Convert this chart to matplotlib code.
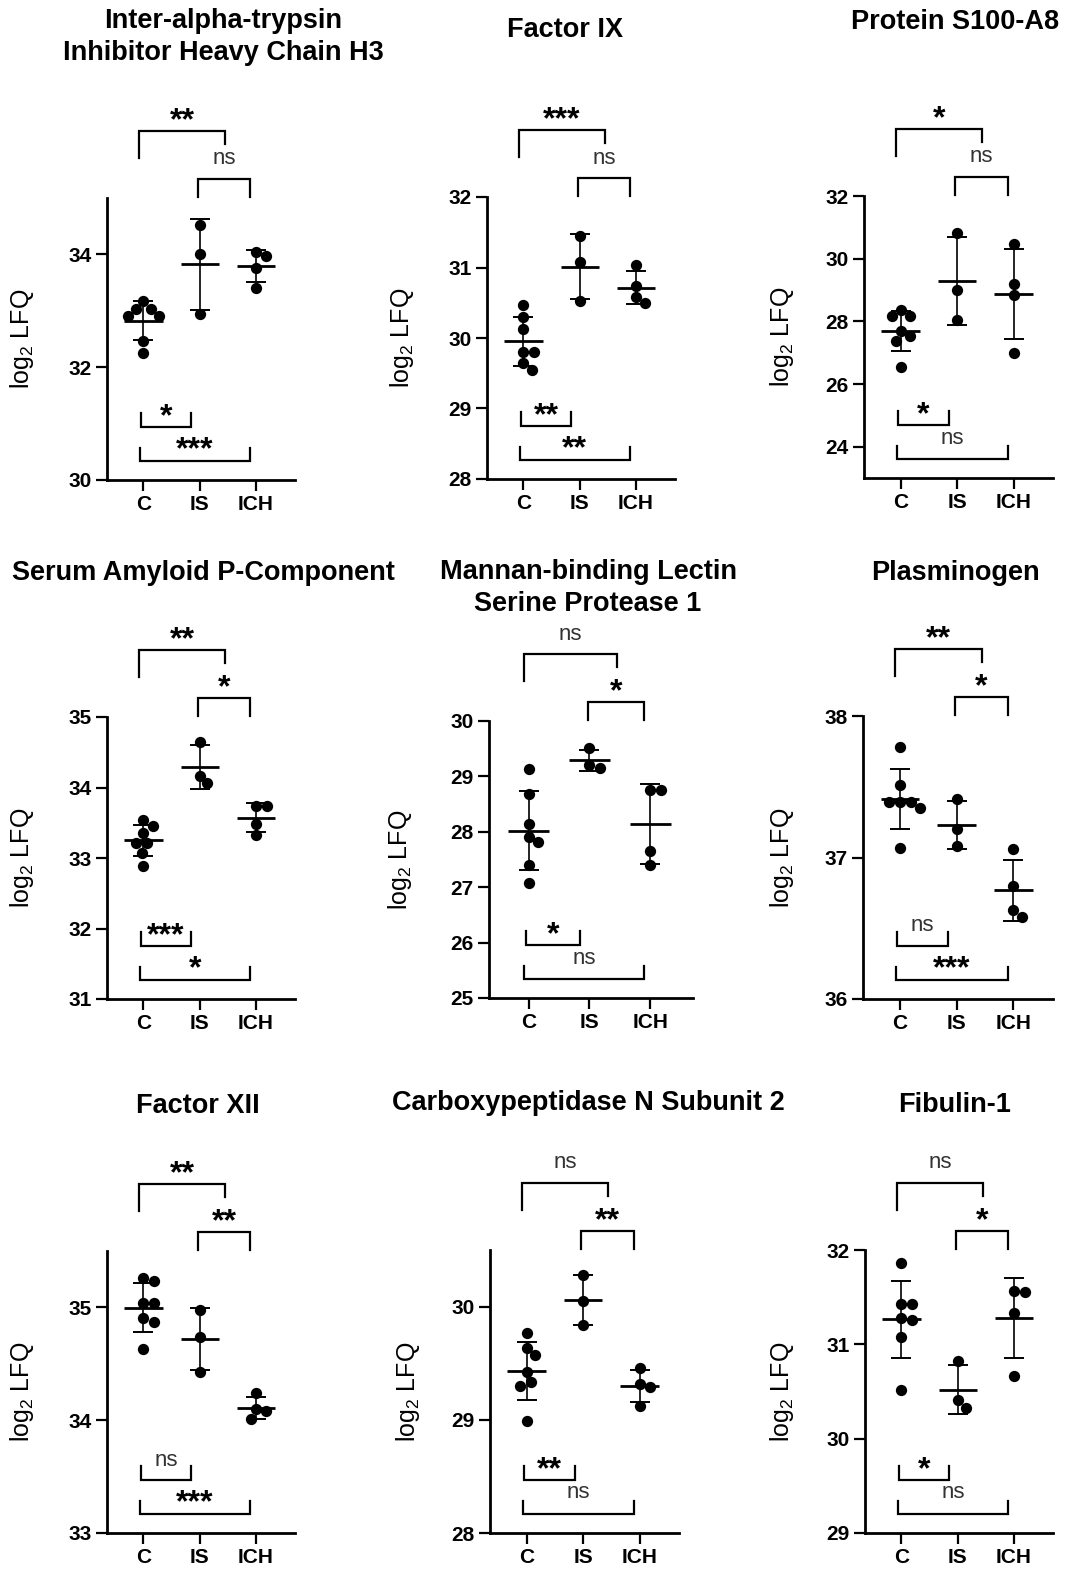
import numpy as np
import matplotlib
matplotlib.use("Agg")
import matplotlib.pyplot as plt
from matplotlib import transforms, font_manager

plt.rcParams["font.family"] = ["Liberation Sans", "DejaVu Sans"]
plt.rcParams["mathtext.default"] = "regular"

# titles in the reference look condensed; use the narrow cut if it is installed
_names = {f.name for f in font_manager.fontManager.ttflist}
NARROW = "Liberation Sans Narrow" in _names
TITLE_FONT = (["Liberation Sans Narrow"], 23) if NARROW else (["Liberation Sans"], 19.5)
NS_FONT = (["Liberation Sans Narrow"], 17) if NARROW else (["Liberation Sans"], 16)

W, H, DPI = 1067, 1571, 100
GROUPS = ["C", "IS", "ICH"]

# ---------------------------------------------------------------- data (log2 LFQ)
ITIH3 = [[33.18, 33.03, 33.04, 32.91, 32.91, 32.47, 32.25],
         [34.53, 34.00, 32.94],
         [34.04, 33.98, 33.75, 33.41]]
F9 = [[30.47, 30.30, 30.13, 29.80, 29.80, 29.55, 29.64],
      [31.44, 31.08, 30.52],
      [31.03, 30.74, 30.50, 30.58]]
S100A8 = [[28.18, 28.36, 28.16, 27.70, 27.38, 27.52, 26.55],
          [30.82, 29.01, 28.04],
          [30.46, 29.20, 28.84, 27.00]]
SAP = [[33.54, 33.46, 33.36, 33.21, 33.21, 33.07, 32.89],
       [34.64, 34.06, 34.17],
       [33.74, 33.74, 33.48, 33.32]]
MASP1 = [[29.13, 28.68, 28.14, 27.90, 27.81, 27.40, 27.08],
         [29.51, 29.16, 29.21],
         [28.76, 28.75, 27.65, 27.40]]
PLG = [[37.78, 37.51, 37.39, 37.35, 37.39, 37.39, 37.07],
       [37.41, 37.20, 37.08],
       [37.06, 36.80, 36.58, 36.63]]
F12 = [[35.26, 35.23, 35.04, 35.04, 34.91, 34.87, 34.63],
       [34.98, 34.74, 34.43],
       [34.24, 34.08, 34.10, 34.01]]
CPN2 = [[29.77, 29.63, 29.57, 29.42, 29.30, 29.33, 28.99],
        [30.28, 30.05, 29.84],
        [29.46, 29.32, 29.29, 29.12]]
FBLN1 = [[31.86, 31.43, 31.43, 31.26, 31.28, 31.08, 30.52],
         [30.82, 30.33, 30.41],
         [31.56, 31.57, 31.33, 30.66]]

PANELS = [ITIH3, F9, S100A8, SAP, MASP1, PLG, F12, CPN2, FBLN1]
TITLES = ["Inter-alpha-trypsin\nInhibitor Heavy Chain H3", "Factor IX", "Protein S100-A8",
          "Serum Amyloid P-Component", "Mannan-binding Lectin\nSerine Protease 1", "Plasminogen",
          "Factor XII", "Carboxypeptidase N Subunit 2", "Fibulin-1"]
YLIMS = [(30, 35), (28, 32), (23, 32), (31, 35), (25, 30), (36, 38),
         (33, 35.5), (28, 30.5), (29, 32)]
YTICKS = [[30, 32, 34], [28, 29, 30, 31, 32], [24, 26, 28, 30, 32],
          [31, 32, 33, 34, 35], [25, 26, 27, 28, 29, 30], [36, 37, 38],
          [33, 34, 35], [28, 29, 30], [29, 30, 31, 32]]
# significance: C vs (top), IS vs ICH, C vs IS (below), C vs ICH (below)
SIGS = [["**", "ns", "*", "***"], ["***", "ns", "**", "**"], ["*", "ns", "*", "ns"],
        ["**", "*", "***", "*"], ["ns", "*", "*", "ns"], ["**", "*", "ns", "***"],
        ["**", "**", "ns", "***"], ["ns", "**", "**", "ns"], ["ns", "*", "*", "ns"]]

# ---------------------------------------------------------------- layout (pixels)
# y-axis x, x-axis y, width, height
PANEL_PX = [(107, 480, 188, 282), (487, 479, 188, 282), (864, 478, 189, 282),
            (107, 999, 188, 282), (489, 998, 204, 277), (863, 999, 190, 283),
            (107, 1533, 188, 282), (490, 1533, 189, 283), (865, 1533, 188, 283)]
TITLE_PX = [(223, 37), (565, 30), (955, 22), (203, 573), (588, 588), (955, 573),
            (198, 1106), (588, 1103), (955, 1105)]
YLABEL_PX = [22, 402, 782, 22, 400, 782, 22, 408, 782]
XLIM = (-0.65, 2.7)
# x0, x1, ref edge, offset px from edge, left leg px, right leg px, label offset px
BRACKETS = [(-0.08, 1.45, "top", 67, 27, 13, 87),
            (0.97, 1.90, "top", 19, 18, 18, 39),
            (-0.05, 0.85, "bottom", 53, 14, 14, 73),
            (-0.07, 1.90, "bottom", 19, 13, 13, 40)]
DOT_D = 11.0  # swarm spacing, px


def swarm(vals, ppu_y, d):
    ys = np.asarray(vals) * ppu_y
    xs = np.zeros(len(ys))
    placed = []
    for i in np.argsort(-ys):
        y = ys[i]
        cands = [0.0]
        for px, py in placed:
            dy = abs(py - y)
            if dy < d:
                dx = np.sqrt(d * d - dy * dy)
                cands += [px + dx, px - dx]
        for c in sorted(cands, key=lambda c: (round(abs(c), 6), -c)):
            if all((c - px) ** 2 + (y - py) ** 2 >= d * d - 1e-6 for px, py in placed):
                xs[i] = c
                break
        placed.append((xs[i], y))
    return xs


fig = plt.figure(figsize=(W / DPI, H / DPI), dpi=DPI)

for k, groups in enumerate(PANELS):
    left, bottom, w, h = PANEL_PX[k]
    ax = fig.add_axes([left / W, 1 - bottom / H, w / W, h / H])
    ylo, yhi = YLIMS[k]
    ax.set_xlim(*XLIM)
    ax.set_ylim(ylo, yhi)
    ppu_x = w / (XLIM[1] - XLIM[0])
    ppu_y = h / (yhi - ylo)

    for i, vals in enumerate(groups):
        vals = np.asarray(vals)
        jit = swarm(vals, ppu_y, DOT_D) / ppu_x
        ax.scatter(i + jit, vals, s=66, color="black", zorder=3, clip_on=False,
                   linewidths=0)
        m, sd = vals.mean(), vals.std(ddof=1)
        ax.plot([i - 0.34, i + 0.34], [m, m], color="black", lw=2.0, zorder=4,
                solid_capstyle="butt")
        ax.errorbar(i, m, yerr=sd, fmt="none", ecolor="black", elinewidth=1.2,
                    capsize=7.3, capthick=1.4, zorder=4)

    # axes styling
    for s in ("top", "right"):
        ax.spines[s].set_visible(False)
    for s in ("left", "bottom"):
        ax.spines[s].set_linewidth(2.0)
    ax.set_xticks(range(3))
    ax.set_xticklabels(GROUPS, fontsize=15, fontweight="bold")
    ax.set_yticks(YTICKS[k])
    ax.set_yticklabels([str(t) for t in YTICKS[k]], fontsize=15, fontweight="bold")
    ax.tick_params(axis="both", length=8, width=1.6, direction="out", pad=3)
    ax.set_ylabel(r"log$_{2}$ LFQ", fontsize=18)
    ax.yaxis.label.set_verticalalignment("center")
    ax.yaxis.set_label_coords((YLABEL_PX[k] - left) / w, 0.5)

    # significance brackets
    tr = transforms.blended_transform_factory(ax.transData, ax.transAxes)
    for (x0, x1, ref, off, ll, rl, loff), sig in zip(BRACKETS, SIGS[k]):
        if ref == "top":
            yb = 1 + off / h
            yl, yr, yt = 1 + (off - ll) / h, 1 + (off - rl) / h, 1 + loff / h
        else:
            yb = off / h
            yl, yr, yt = (off + ll) / h, (off + rl) / h, loff / h
        ax.plot([x0, x0, x1, x1], [yl, yb, yb, yr], color="black", lw=1.6,
                transform=tr, clip_on=False, solid_joinstyle="miter")
        xm = (x0 + x1) / 2
        if sig == "ns":
            ax.text(xm, yt, sig, transform=tr, ha="center", va="center",
                    family=NS_FONT[0], fontsize=NS_FONT[1], color="#333333")
        else:
            fs = 23
            ttr = transforms.offset_copy(tr, fig=fig, x=0, y=-0.32 * fs, units="points")
            ax.text(xm, yt, sig, transform=ttr, ha="center", va="center",
                    fontsize=fs, fontweight="bold", color="black")

    tx, ty = TITLE_PX[k]
    fig.text(tx / W, 1 - ty / H, TITLES[k], ha="center", va="center",
             family=TITLE_FONT[0], fontsize=TITLE_FONT[1], fontweight="bold",
             linespacing=1.3)

fig.savefig("out.png", dpi=DPI, facecolor="white")
